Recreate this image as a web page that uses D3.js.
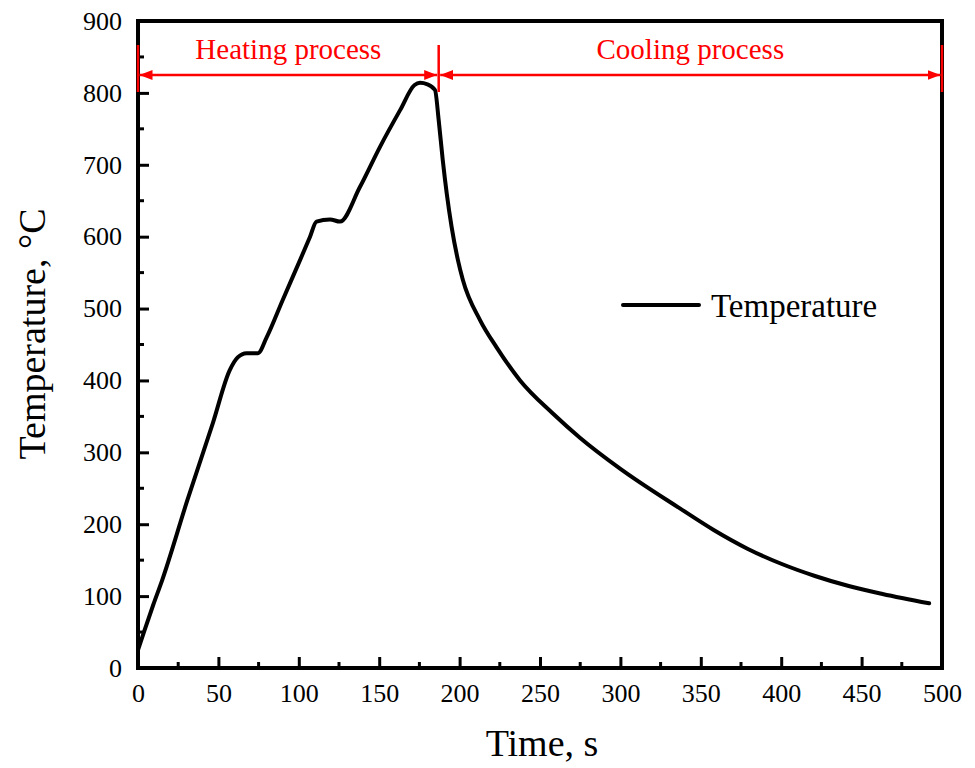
<!DOCTYPE html>
<html>
<head>
<meta charset="utf-8">
<script src="https://cdn.jsdelivr.net/npm/d3@7"></script>
<style>
  body { margin: 0; background: #fff; }
  svg text { font-family: "Liberation Serif", "Times New Roman", serif; }
</style>
</head>
<body>
<div id="chart"></div>
<script>
// time (s) and temperature (°C)
const timeS = [0, 4, 9.5, 15, 30.5, 46.6, 57, 62, 67.5, 74.6, 80, 90, 100.7, 107, 111, 119.4, 125.6,
  138, 150.5, 163, 172, 175.4, 180, 184.7, 187, 189.5, 192, 195, 199, 202, 212.7, 223, 237.6, 258, 275,
  300, 337, 358, 379, 400, 421, 442, 463, 492];
const tempC = [25, 52, 88, 122, 232, 341, 414, 432, 438, 438, 460, 512, 567, 600, 621, 624, 621,
  669, 725, 776, 811, 814, 812, 804, 762, 707, 660, 614, 567, 540, 484, 446, 400, 354, 320,
  277, 222, 192, 166, 145, 128, 114, 103, 90];

const xTicks = [0, 50, 100, 150, 200, 250, 300, 350, 400, 450, 500];
const yTicks = [0, 100, 200, 300, 400, 500, 600, 700, 800, 900];

// process spans shown by the red arrows
const processNames = ["Heating process", "Cooling process"];
const processBounds = [0, 187, 500];

const W = 975, H = 768;
const margin = { top: 21, right: 33, bottom: 100, left: 138 };
const width = W - margin.left - margin.right;
const height = H - margin.top - margin.bottom;

const svg = d3.select("#chart").append("svg")
  .attr("width", W)
  .attr("height", H);

const g = svg.append("g")
  .attr("transform", `translate(${margin.left}, ${margin.top})`);

const x = d3.scaleLinear().domain([0, 500]).range([0, width]);
const y = d3.scaleLinear().domain([0, 900]).range([height, 0]);

// minor ticks (inside)
const minorX = d3.range(25, 500, 50);
const minorY = d3.range(50, 900, 100);

g.selectAll("line.minor-x")
  .data(minorX)
  .enter()
  .append("line")
  .attr("x1", d => x(d)).attr("x2", d => x(d))
  .attr("y1", height).attr("y2", height - 6)
  .attr("stroke", "#000").attr("stroke-width", 3);

g.selectAll("line.minor-y")
  .data(minorY)
  .enter()
  .append("line")
  .attr("x1", 0).attr("x2", 6)
  .attr("y1", d => y(d)).attr("y2", d => y(d))
  .attr("stroke", "#000").attr("stroke-width", 3);

// X axis
const xAxis = g.append("g")
  .attr("transform", `translate(0, ${height})`)
  .call(d3.axisBottom(x).tickValues(xTicks).tickSizeInner(-11).tickSizeOuter(0).tickPadding(16));
xAxis.select(".domain").remove();
xAxis.selectAll("line").attr("stroke", "#000").attr("stroke-width", 3);
xAxis.selectAll("text").attr("font-size", 26).attr("fill", "#000");

// Y axis
const yAxis = g.append("g")
  .call(d3.axisLeft(y).tickValues(yTicks).tickSizeInner(-11).tickSizeOuter(0).tickPadding(16));
yAxis.select(".domain").remove();
yAxis.selectAll("line").attr("stroke", "#000").attr("stroke-width", 3);
yAxis.selectAll("text").attr("font-size", 26).attr("fill", "#000");

// frame
g.append("rect")
  .attr("x", 0).attr("y", 0)
  .attr("width", width).attr("height", height)
  .attr("fill", "none")
  .attr("stroke", "#000")
  .attr("stroke-width", 4);

// curve
const pts = timeS.map((t, i) => [t, tempC[i]]);
g.append("path")
  .datum(pts)
  .attr("fill", "none")
  .attr("stroke", "#000")
  .attr("stroke-width", 4)
  .attr("stroke-linejoin", "round")
  .attr("stroke-linecap", "round")
  .attr("d", d3.line().x(d => x(d[0])).y(d => y(d[1])).curve(d3.curveMonotoneX));

// red arrows
const red = "#ff0000";
const arrowY = 54;
svg.append("defs").append("marker")
  .attr("id", "arrow")
  .attr("viewBox", "0 0 13 10")
  .attr("refX", 13).attr("refY", 5)
  .attr("markerWidth", 13).attr("markerHeight", 10)
  .attr("markerUnits", "userSpaceOnUse")
  .attr("orient", "auto-start-reverse")
  .append("path")
  .attr("d", "M0,0 L13,5 L0,10 Z")
  .attr("fill", red);

g.selectAll("line.bound")
  .data(processBounds)
  .enter()
  .append("line")
  .attr("x1", d => x(d)).attr("x2", d => x(d))
  .attr("y1", 24).attr("y2", 71)
  .attr("stroke", red).attr("stroke-width", 2.5);

processNames.forEach((name, i) => {
  const x0 = x(processBounds[i]) + 1.5, x1 = x(processBounds[i + 1]) - 1.5;
  g.append("line")
    .attr("x1", x0).attr("x2", x1)
    .attr("y1", arrowY).attr("y2", arrowY)
    .attr("stroke", red).attr("stroke-width", 2.5)
    .attr("marker-start", "url(#arrow)")
    .attr("marker-end", "url(#arrow)");
  g.append("text")
    .attr("x", (x0 + x1) / 2)
    .attr("y", 38)
    .attr("text-anchor", "middle")
    .attr("font-size", 29)
    .attr("fill", red)
    .text(name);
});

// legend
g.append("line")
  .attr("x1", 623 - margin.left).attr("x2", 699 - margin.left)
  .attr("y1", 305 - margin.top).attr("y2", 305 - margin.top)
  .attr("stroke", "#000").attr("stroke-width", 4).attr("stroke-linecap", "round");
g.append("text")
  .attr("x", 711 - margin.left)
  .attr("y", 317 - margin.top)
  .attr("font-size", 33)
  .attr("fill", "#000")
  .text("Temperature");

// axis titles
svg.append("text")
  .attr("x", margin.left + width / 2 + 2)
  .attr("y", 756)
  .attr("text-anchor", "middle")
  .attr("font-size", 38)
  .attr("fill", "#000")
  .text("Time, s");

svg.append("text")
  .attr("transform", `translate(45, 334) rotate(-90)`)
  .attr("text-anchor", "middle")
  .attr("font-size", 38)
  .attr("fill", "#000")
  .text("Temperature, °C");
</script>
</body>
</html>
